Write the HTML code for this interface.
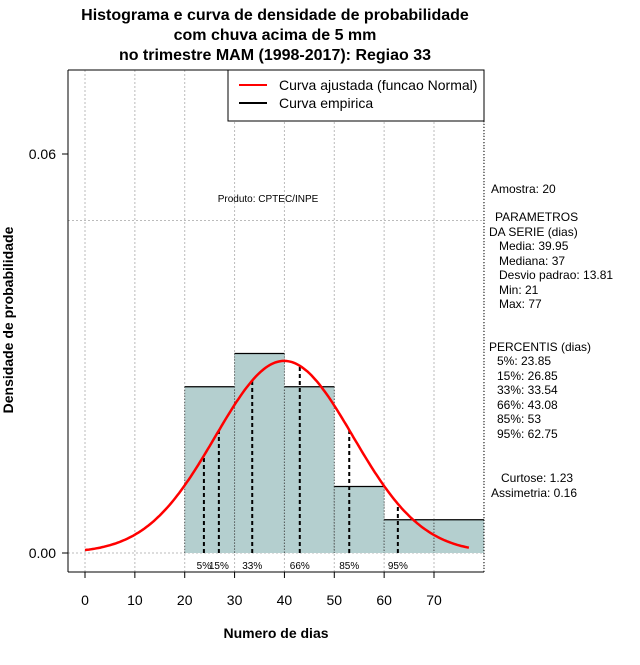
<!DOCTYPE html>
<html><head><meta charset="utf-8"><style>
body{margin:0;background:#fff;}
svg text{font-family:"Liberation Sans",sans-serif;}
</style></head><body>
<svg id="c" width="640" height="660" xmlns="http://www.w3.org/2000/svg">
<rect width="640" height="660" fill="#fff"/>
<g font-weight="bold" font-size="16" text-anchor="middle">
<text x="275" y="20">Histograma e curva de densidade de probabilidade</text>
<text x="275" y="40">com chuva acima de 5 mm</text>
<text x="275" y="60">no trimestre MAM (1998-2017): Regiao 33</text>
</g>
<g id="grid"></g>
<g id="bars"></g>
<g id="pct"></g>
<path id="curve" fill="none" stroke="#f00" stroke-width="2.5"/>
<g id="axes"></g>
<text x="268" y="202" font-size="10" text-anchor="middle">Produto: CPTEC/INPE</text>
<g>
<rect x="228" y="70" width="256" height="51" fill="#fff" stroke="#000" stroke-width="1"/>
<line x1="239" y1="85" x2="267" y2="85" stroke="#f00" stroke-width="2"/>
<text x="279" y="90" font-size="14">Curva ajustada (funcao Normal)</text>
<line x1="239" y1="103" x2="267" y2="103" stroke="#000" stroke-width="2"/>
<text x="279" y="108" font-size="14">Curva empirica</text>
</g>
<g font-size="12">
<text x="491" y="193">Amostra: 20</text>
<text x="495" y="221">PARAMETROS</text>
<text x="489" y="236">DA SERIE (dias)</text>
<text x="499" y="250">Media: 39.95</text>
<text x="499" y="265">Mediana: 37</text>
<text x="499" y="279">Desvio padrao: 13.81</text>
<text x="499" y="294">Min: 21</text>
<text x="499" y="308">Max: 77</text>
<text x="489" y="351">PERCENTIS (dias)</text>
<text x="497" y="365">5%: 23.85</text>
<text x="497" y="380">15%: 26.85</text>
<text x="497" y="394">33%: 33.54</text>
<text x="497" y="409">66%: 43.08</text>
<text x="497" y="423">85%: 53</text>
<text x="497" y="438">95%: 62.75</text>
<text x="501" y="482">Curtose: 1.23</text>
<text x="491" y="497">Assimetria: 0.16</text>
</g>
<text x="276" y="638" font-size="14" font-weight="bold" text-anchor="middle">Numero de dias</text>
<text transform="translate(13,320) rotate(-90)" font-size="14" font-weight="bold" text-anchor="middle">Densidade de probabilidade</text>
</svg>
<script>
const binStarts=[20,30,40,50,60,70];
const binDensity=[0.025,0.03,0.025,0.01,0.005,0.005];
const binWidth=10;
const pctValues=[23.85,26.85,33.54,43.08,53,62.75];
const pctLabels=["5%","15%","33%","66%","85%","95%"];
const xTicks=[0,10,20,30,40,50,60,70];
const yTicks=[0,0.06];
const yTickLabels=["0.00","0.06"];
const mean=39.95, sd=13.81, curveMin=0, curveMax=77;

const X=v=>85+v*(434-85)/70;
const Y=v=>553-v*(553-154)/0.06;
const NS="http://www.w3.org/2000/svg";
function mk(t,a,p){const e=document.createElementNS(NS,t);for(const k in a)e.setAttribute(k,a[k]);p.appendChild(e);return e;}
const dens=x=>Math.exp(-0.5*((x-mean)/sd)**2)/(sd*Math.sqrt(2*Math.PI));

const grid=document.getElementById('grid');
for(let v=0;v<=80;v+=10){const l=mk('line',{x1:X(v),x2:X(v),y1:70,y2:572,stroke:'#bbb','stroke-dasharray':'2,2'},grid);

}
[0,0.05].forEach(v=>{const l=mk('line',{x1:68,x2:484,y1:Y(v),y2:Y(v),stroke:'#bbb','stroke-dasharray':'2,2'},grid);

});

const bars=document.getElementById('bars');
binStarts.forEach((s,i)=>{
 const x0=X(s),x1=X(s+binWidth),y=Y(binDensity[i]);
 const r=mk('rect',{x:x0,y:y,width:x1-x0,height:Y(0)-y,fill:'#b4cfcf'},bars);
 
 
 mk('line',{x1:x0,x2:x1,y1:y,y2:y,stroke:'#000','stroke-width':1.3},bars);
 mk('line',{x1:x0,x2:x0,y1:y,y2:Y(0),stroke:'#333','stroke-dasharray':'1,2'},bars);
 mk('line',{x1:x1,x2:x1,y1:y,y2:Y(0),stroke:'#333','stroke-dasharray':'1,2'},bars);
});

const pct=document.getElementById('pct');
pctValues.forEach((v,i)=>{
 const l=mk('line',{x1:X(v),x2:X(v),y1:Y(0),y2:Y(dens(v)),stroke:'#000','stroke-width':2,'stroke-dasharray':'4,3'},pct);
 
 
 const t=mk('text',{x:X(v),y:569,'font-size':10,'text-anchor':'middle'},pct);
 t.textContent=pctLabels[i];
 
 
});

let d='';for(let i=0;i<=200;i++){const x=curveMin+(curveMax-curveMin)*i/200;d+=(i?'L':'M')+X(x).toFixed(1)+','+Y(dens(x)).toFixed(1);}
document.getElementById('curve').setAttribute('d',d);

const ax=document.getElementById('axes');
mk('line',{x1:68,x2:68,y1:70,y2:572,stroke:'#000'},ax);
mk('line',{x1:68,x2:484,y1:70,y2:70,stroke:'#000'},ax);
mk('line',{x1:68,x2:484,y1:572,y2:572,stroke:'#000'},ax);
mk('line',{x1:484,x2:484,y1:70,y2:572,stroke:'#000','stroke-dasharray':'1,2'},ax);
xTicks.forEach(v=>{mk('line',{x1:X(v),x2:X(v),y1:572,y2:578,stroke:'#000'},ax);
 const t=mk('text',{x:X(v),y:605,'font-size':14,'text-anchor':'middle'},ax);t.textContent=v;
 
 });
yTicks.forEach((v,i)=>{mk('line',{x1:62,x2:68,y1:Y(v),y2:Y(v),stroke:'#000'},ax);
 const t=mk('text',{x:56,y:Y(v)+5,'font-size':14,'text-anchor':'end'},ax);t.textContent=yTickLabels[i];
 
 });
</script>
</body></html>
